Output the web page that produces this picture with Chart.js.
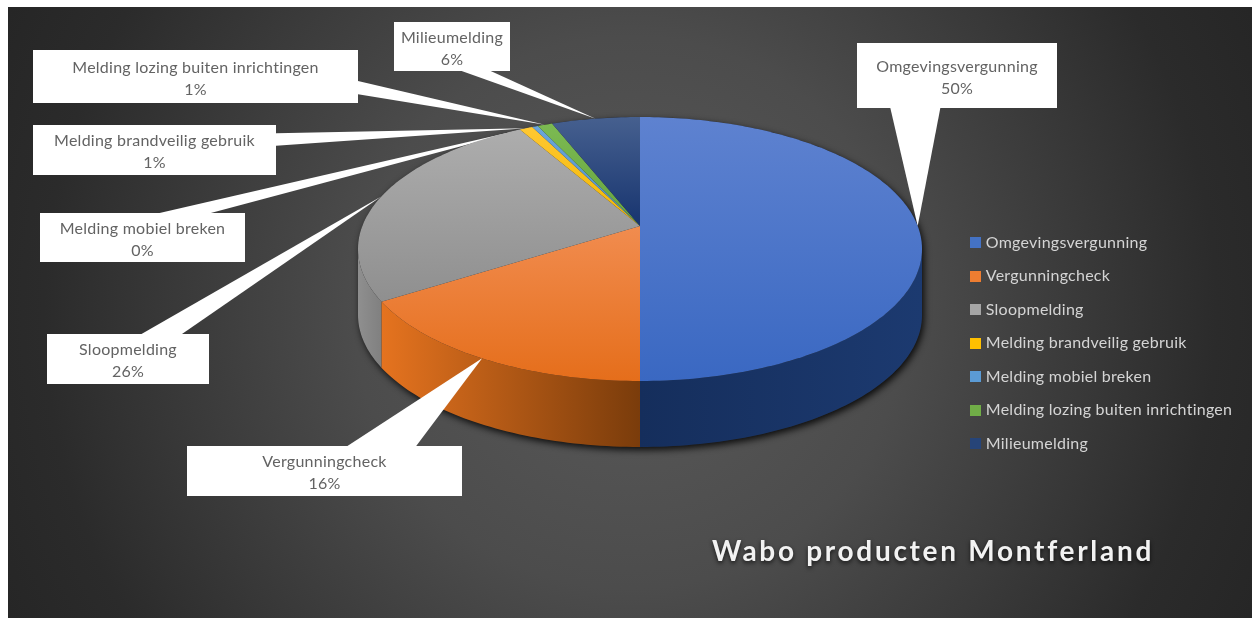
<!DOCTYPE html>
<html>
<head>
<meta charset="utf-8">
<title>Wabo producten Montferland</title>
<script src="https://cdn.jsdelivr.net/npm/chart.js@4/dist/chart.umd.min.js"></script>
<style>
  html, body { margin: 0; padding: 0; background: #fff; overflow: hidden; }
  #panel {
    position: absolute; left: 8px; top: 7px; width: 1244px; height: 611px;
    background: radial-gradient(circle 690px at 50% 50%, #5a5a5a 0%, #4c4c4c 40%, #2b2b2b 85%, #262626 100%);
  }
  #chart { position: absolute; left: 0; top: 0; }
</style>
</head>
<body>
<div id="panel"></div>
<canvas id="chart" width="1252" height="618"></canvas>
<script>
const labels = ['Omgevingsvergunning', 'Vergunningcheck', 'Sloopmelding', 'Melding brandveilig gebruik',
    'Melding mobiel breken', 'Melding lozing buiten inrichtingen', 'Milieumelding'];
const shares = [50.0, 16.0, 25.7, 0.9, 0.4, 1.0, 6.0];
const colors = ['#4472c4', '#ed7d31', '#a5a5a5', '#ffc000', '#5b9bd5', '#70ad47', '#264478'];

// slice shading: top of slice, bottom of slice
const topShade = ['#5e82d0', '#f18c4f', '#adadad', '#ffc832', '#6aa5db', '#7cba52', '#46608f'];
const bottomShade = ['#3a68c2', '#e56e1b', '#8f8f8f', '#f2b600', '#4f8fca', '#66a33f', '#17346f'];
// wall shading: left end, right end (only the three front slices show a wall)
const wallLeft = ['#152e5c', '#e5731f', '#8f8f8f'];
const wallRight = ['#1c3a70', '#7a3c0b', '#808080'];

// callout boxes: left, top, right, bottom
const boxes = [[857, 43, 1057, 108], [187, 446, 462, 496], [47, 334, 209, 384], [33, 125, 276, 175],
    [40, 213, 245, 262], [33, 50, 358, 103], [394, 22, 510, 71]];

// pie geometry on screen
const CX = 640, CY = 249, RX = 282, RY = 132, APEX = -23, DEPTH = 66;
const C = APEX / RY;
const DX = RX * Math.sqrt(1 - C * C);

// tilted circle: the centre lands on the apex, not on the middle of the ellipse
function rim(angle, r = 1) {
    const u = Math.cos(angle) * r, v = Math.sin(angle) * r;
    const d = 1 + C * v;
    return [CX + DX * u / d, CY + (RY * v + APEX) / d];
}

const FONT = 'Lato, "Open Sans", sans-serif';
const TURN = Math.asin(-C);  // where the silhouette leaves the wall

function tracePoints(ctx, from, to, dy = 0) {
    const n = Math.max(2, Math.ceil(Math.abs(to - from) / 0.02));
    for (let i = 0; i <= n; i++) {
        const p = rim(from + (to - from) * i / n);
        ctx.lineTo(p[0], p[1] + dy);
    }
}

function drawCallouts(ctx, arcs) {
    const total = shares.reduce((a, b) => a + b, 0);
    arcs.forEach((arc, i) => {
        const [l, t, r, b] = boxes[i];
        const w = r - l, h = b - t;
        const cx = (l + r) / 2, cy = (t + b) / 2;
        const tip = rim((arc.startAngle + arc.endAngle) / 2);
        const dx = (tip[0] - cx) / w, dy = (tip[1] - cy) / h;
        ctx.fillStyle = '#fff';
        ctx.fillRect(l, t, w, h);
        ctx.beginPath();
        if (Math.abs(dy) > Math.abs(dx)) {
            const y = dy > 0 ? b : t;
            const f = dx < 0 ? [1 / 6, 5 / 12] : [7 / 12, 5 / 6];
            ctx.moveTo(l + w * f[0], y);
            ctx.lineTo(tip[0], tip[1]);
            ctx.lineTo(l + w * f[1], y);
        } else {
            const x = dx > 0 ? r : l;
            const f = dy < 0 ? [1 / 6, 5 / 12] : [7 / 12, 5 / 6];
            ctx.moveTo(x, t + h * f[0]);
            ctx.lineTo(tip[0], tip[1]);
            ctx.lineTo(x, t + h * f[1]);
        }
        ctx.closePath();
        ctx.fill();

        ctx.fillStyle = '#636363';
        ctx.font = '16px ' + FONT;
        ctx.textAlign = 'center';
        ctx.textBaseline = 'middle';
        ctx.fillText(labels[i], cx, cy - 9);
        ctx.fillText(Math.round(shares[i] / total * 100) + '%', cx, cy + 13);
    });
}

// small squares for the legend, drawn as images so the gap to the text stays narrow
function swatch(color) {
    const c = document.createElement('canvas');
    c.width = c.height = 11;
    const x = c.getContext('2d');
    x.fillStyle = color;
    x.fillRect(0, 0, 11, 11);
    return c;
}

const pie3d = {
    id: 'pie3d',
    beforeDraw(chart) {
        chart.ctx.letterSpacing = '0.25px';
    },
    beforeDatasetsDraw(chart) {
        const ctx = chart.ctx;
        const arcs = chart.getDatasetMeta(0).data;

        // shadow under the body
        ctx.save();
        ctx.shadowColor = 'rgba(0,0,0,0.85)';
        ctx.shadowBlur = 7;
        ctx.shadowOffsetX = 2;
        ctx.shadowOffsetY = 3;
        ctx.fillStyle = '#222';
        ctx.beginPath();
        tracePoints(ctx, TURN, Math.PI - TURN, DEPTH);
        tracePoints(ctx, Math.PI - TURN, 2 * Math.PI + TURN);
        ctx.closePath();
        ctx.fill();
        ctx.restore();

        // walls, front half only
        arcs.slice(0, 3).forEach((arc, i) => {
            const a0 = Math.max(arc.startAngle, TURN);
            const a1 = Math.min(arc.endAngle, Math.PI - TURN);
            if (a1 <= a0) return;
            const x0 = rim(a1)[0], x1 = rim(a0)[0];
            const g = ctx.createLinearGradient(x0, 0, x1, 0);
            g.addColorStop(0, wallLeft[i]);
            g.addColorStop(1, wallRight[i]);
            ctx.fillStyle = g;
            ctx.beginPath();
            tracePoints(ctx, a0, a1);
            tracePoints(ctx, a1, a0, DEPTH);
            ctx.closePath();
            ctx.fill();
        });

        // the pointers run over the walls but under the top faces
        drawCallouts(ctx, arcs);

        // top faces
        arcs.forEach((arc, i) => {
            const pts = [rim(0, 0)];
            for (let t = 0; t <= 40; t++) pts.push(rim(arc.startAngle + (arc.endAngle - arc.startAngle) * t / 40));
            const ys = pts.map(p => p[1]);
            const g = ctx.createLinearGradient(0, Math.min(...ys), 0, Math.max(...ys));
            g.addColorStop(0, topShade[i]);
            g.addColorStop(1, bottomShade[i]);
            ctx.fillStyle = g;
            ctx.beginPath();
            ctx.moveTo(CX, CY + APEX);
            tracePoints(ctx, arc.startAngle, arc.endAngle);
            ctx.closePath();
            ctx.fill();
        });
        return false;
    },
    afterDraw(chart) {
        const ctx = chart.ctx;
        ctx.save();
        ctx.font = 'bold 28px ' + FONT;
        ctx.letterSpacing = '2.7px';
        ctx.textAlign = 'left';
        ctx.textBaseline = 'alphabetic';
        ctx.shadowColor = 'rgba(0,0,0,0.7)';
        ctx.shadowBlur = 4;
        ctx.shadowOffsetY = 2;
        ctx.fillStyle = '#f2f2f2';
        ctx.fillText('Wabo producten Montferland', 712, 561);
        ctx.restore();
    }
};

new Chart(document.getElementById('chart'), {
    type: 'pie',
    data: {
        labels: labels,
        datasets: [{ data: shares, backgroundColor: colors, borderWidth: 0 }]
    },
    plugins: [pie3d],
    options: {
        responsive: false,
        animation: false,
        layout: { padding: { top: 68, right: 18 } },
        plugins: {
            tooltip: { enabled: false },
            legend: {
                position: 'right',
                labels: {
                    color: '#d4d4d4',
                    font: { family: FONT, size: 16 },
                    usePointStyle: true,
                    pointStyleWidth: 4,
                    boxHeight: 11,
                    padding: 17.5,
                    generateLabels(chart) {
                        const items = Chart.overrides.doughnut.plugins.legend.labels.generateLabels(chart);
                        items.forEach((item, i) => { item.pointStyle = swatch(colors[i]); });
                        return items;
                    }
                }
            }
        }
    }
});
</script>
</body>
</html>
